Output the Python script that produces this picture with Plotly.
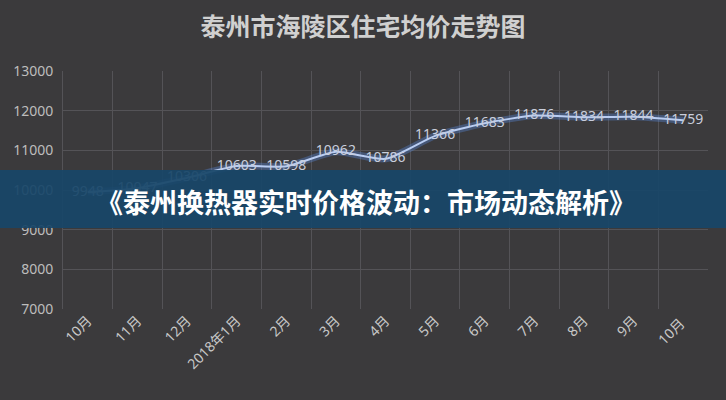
import plotly.graph_objects as go

# ---- data ----
months = ["10月", "11月", "12月", "2018年1月", "2月", "3月", "4月",
          "5月", "6月", "7月", "8月", "9月", "10月 "]
prices = [9948, 10047, 10306, 10603, 10598, 10962, 10786,
          11366, 11683, 11876, 11834, 11844, 11759]
y_ticks = [7000, 8000, 9000, 10000, 11000, 12000, 13000]
y_tick_labels = ["7000", "8000", "9000", "10000", "11000", "12000", "13000"]
title_text = "泰州市海陵区住宅均价走势图"
banner_text = "《泰州换热器实时价格波动：市场动态解析》"

BG = "#3b3a3c"
GRID = "#545357"
FONT = "Noto Sans, Noto Sans CJK SC, DejaVu Sans, sans-serif"

fig = go.Figure()

# glow under the line
fig.add_trace(go.Scatter(
    x=months, y=prices, mode="lines",
    line=dict(color="rgba(90,140,225,0.35)", width=7, shape="spline", smoothing=0.6),
    hoverinfo="skip", showlegend=False))
fig.add_trace(go.Scatter(
    x=months, y=prices, mode="lines+text",
    line=dict(color="#b9cdf2", width=2, shape="spline", smoothing=0.6),
    text=[str(v) for v in prices], textposition="middle center",
    textfont=dict(color="#c9cedc", size=14, family=FONT),
    showlegend=False))

fig.update_layout(
    width=726, height=400,
    paper_bgcolor=BG, plot_bgcolor=BG,
    margin=dict(l=63, r=18, t=71, b=91),
    font=dict(family=FONT, color="#c4c4c4"),
    title=dict(text="<b>" + title_text + "</b>", x=0.5, xanchor="center",
               xref="container", y=1 - 27 / 400, yref="container", yanchor="middle",
               font=dict(size=25, color="#d0d0d0", family="Noto Sans CJK SC")),
    xaxis=dict(type="category", range=[-0.5, 12.5], tickson="boundaries",
               showgrid=True, gridcolor=GRID, gridwidth=1, ticks="",
               tickangle=-45, tickfont=dict(size=14, color="#c8c8c8"),
               showline=False, zeroline=False),
    yaxis=dict(range=[7000, 13000], tickvals=y_ticks, ticktext=y_tick_labels,
               showgrid=True, gridcolor=GRID, gridwidth=1,
               tickfont=dict(size=14, color="#bdbdbd"), ticklabelstandoff=6,
               showline=True, linecolor=GRID, zeroline=False),
)

# banner overlay
plot_w = 726 - 63 - 18
plot_h = 400 - 71 - 91
fig.add_shape(type="rect", xref="paper", yref="paper",
              x0=-63 / plot_w, x1=1 + 18 / plot_w,
              y0=(309 - 228) / plot_h, y1=(309 - 170) / plot_h,
              fillcolor="rgba(24,70,104,0.93)", line=dict(width=0), layer="above")
fig.add_annotation(text="<b>" + banner_text + "</b>", xref="paper", yref="paper",
                   x=(366 - 63) / plot_w, y=(309 - 201) / plot_h,
                   showarrow=False, xanchor="center", yanchor="middle",
                   font=dict(size=27, color="#ffffff", family="Noto Sans CJK SC"))

fig.write_html("out.html", config={"displayModeBar": False},
               post_script="document.body.style.margin='0';document.body.style.background='#3b3a3c';")
